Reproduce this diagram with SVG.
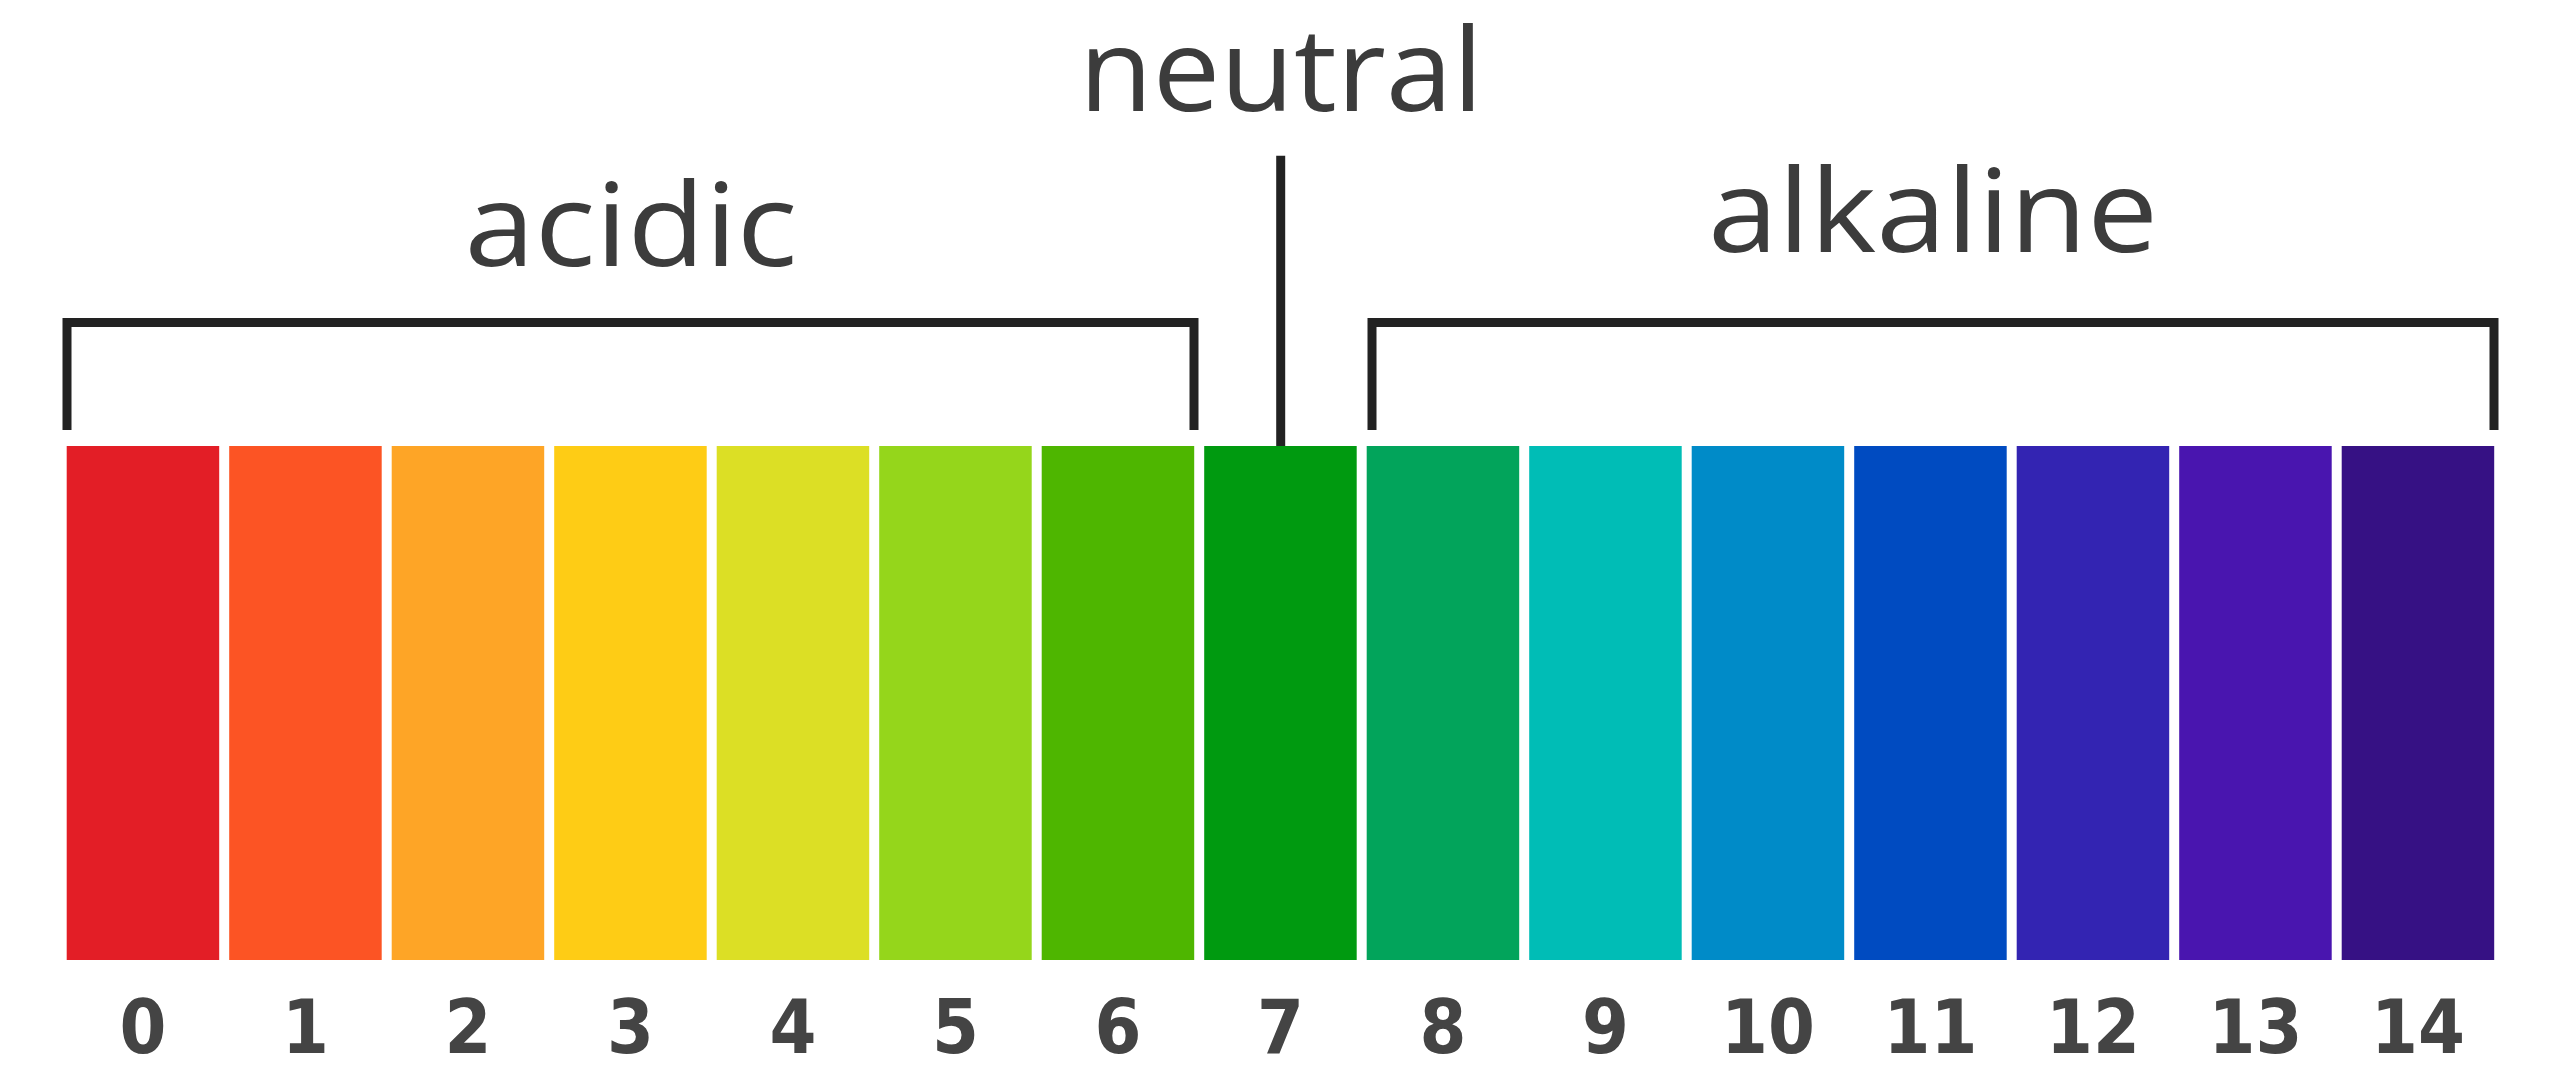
<svg xmlns="http://www.w3.org/2000/svg" width="2560" height="1090" viewBox="0 0 2560 1090">
<style>
.bg{fill:#ffffff}
.word{font-family:"Open Sans","Liberation Sans",sans-serif;font-size:116px;fill:#3c3c3c;text-anchor:middle}
.num{font-family:"DejaVu Sans Condensed","DejaVu Sans","Liberation Sans",sans-serif;font-stretch:condensed;font-weight:bold;font-size:75px;fill:#444444;text-anchor:middle}
.br{fill:none;stroke:#222222;stroke-width:9;stroke-linejoin:miter;stroke-linecap:butt}
</style>
<rect class="bg" x="0" y="0" width="2560" height="1090"/>
<g id="labels">
<text class="word" x="1281" y="111" textLength="404" lengthAdjust="spacingAndGlyphs">neutral</text>
<text class="word" x="631" y="266" textLength="333" lengthAdjust="spacingAndGlyphs">acidic</text>
<text class="word" x="1933" y="252" textLength="450" lengthAdjust="spacingAndGlyphs">alkaline</text>
</g>
<g id="connectors">
<path class="br" d="M67,430 V322.5 H1194 V430"/>
<path class="br" d="M1372,430 V322.5 H2494 V430"/>
<path class="br" d="M1280.7,155.7 V446"/>
</g>
<g id="bars">
<g id="ph0"><rect x="66.7" y="446" width="152.5" height="514" fill="#e31e26"/><text class="num" x="142.9" y="1053">0</text></g>
<g id="ph1"><rect x="229.2" y="446" width="152.5" height="514" fill="#fc5424"/><text class="num" x="305.4" y="1053">1</text></g>
<g id="ph2"><rect x="391.7" y="446" width="152.5" height="514" fill="#fea526"/><text class="num" x="467.9" y="1053">2</text></g>
<g id="ph3"><rect x="554.2" y="446" width="152.5" height="514" fill="#fecc15"/><text class="num" x="630.4" y="1053">3</text></g>
<g id="ph4"><rect x="716.7" y="446" width="152.5" height="514" fill="#dcdf25"/><text class="num" x="792.9" y="1053">4</text></g>
<g id="ph5"><rect x="879.2" y="446" width="152.5" height="514" fill="#95d61b"/><text class="num" x="955.4" y="1053">5</text></g>
<g id="ph6"><rect x="1041.7" y="446" width="152.5" height="514" fill="#4eb600"/><text class="num" x="1117.9" y="1053">6</text></g>
<g id="ph7"><rect x="1204.2" y="446" width="152.5" height="514" fill="#009a10"/><text class="num" x="1280.4" y="1053">7</text></g>
<g id="ph8"><rect x="1366.7" y="446" width="152.5" height="514" fill="#02a45b"/><text class="num" x="1442.9" y="1053">8</text></g>
<g id="ph9"><rect x="1529.2" y="446" width="152.5" height="514" fill="#00bdb6"/><text class="num" x="1605.4" y="1053">9</text></g>
<g id="ph10"><rect x="1691.7" y="446" width="152.5" height="514" fill="#008bc8"/><text class="num" x="1767.9" y="1053">10</text></g>
<g id="ph11"><rect x="1854.2" y="446" width="152.5" height="514" fill="#004bc1"/><text class="num" x="1930.4" y="1053">11</text></g>
<g id="ph12"><rect x="2016.7" y="446" width="152.5" height="514" fill="#3324b2"/><text class="num" x="2092.9" y="1053">12</text></g>
<g id="ph13"><rect x="2179.2" y="446" width="152.5" height="514" fill="#4915af"/><text class="num" x="2255.4" y="1053">13</text></g>
<g id="ph14"><rect x="2341.7" y="446" width="152.5" height="514" fill="#361184"/><text class="num" x="2417.9" y="1053">14</text></g>
</g>
</svg>
